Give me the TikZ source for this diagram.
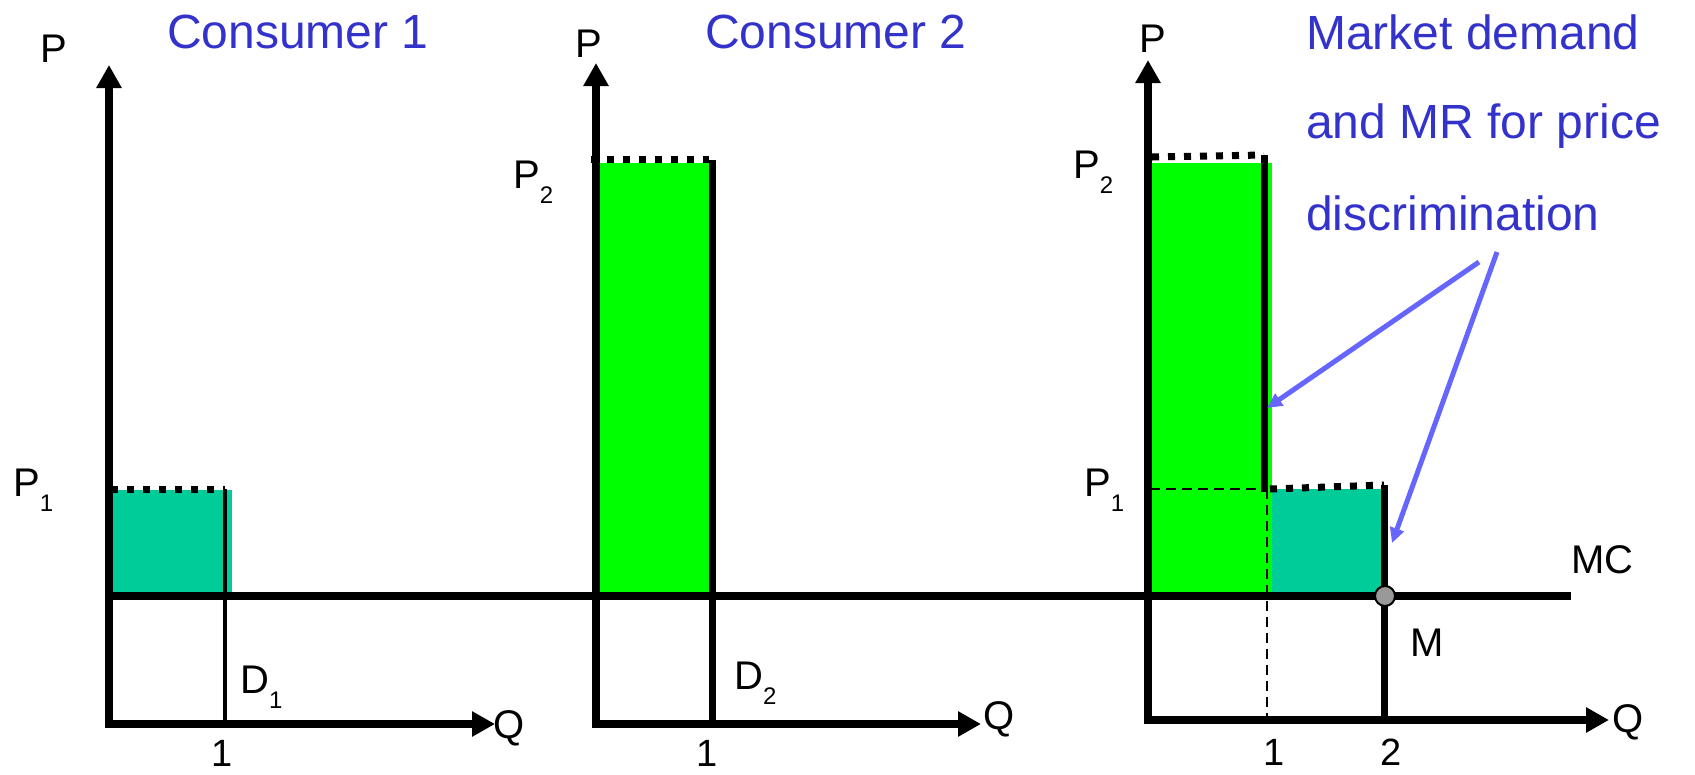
\documentclass[tikz,border=0pt]{standalone}
\usepackage{fontspec}
\setmainfont{Liberation Sans}
\usetikzlibrary{arrows.meta}
\definecolor{titleblue}{RGB}{51,51,204}
\definecolor{arrowblue}{RGB}{102,102,255}
\definecolor{brightgreen}{RGB}{0,255,0}
\definecolor{tealfill}{RGB}{0,204,153}
\definecolor{markgray}{RGB}{153,153,153}
\newcommand\mysub[1]{\raisebox{-15pt}{\fontsize{24}{24}\selectfont #1}}
\begin{document}
\begin{tikzpicture}[x=1pt,y=-1pt,
  axis/.style={line width=7.5pt,line join=miter,
    {Triangle[length=23pt,width=24pt]}-{Triangle[length=23pt,width=24pt]}},
  thickline/.style={line width=7pt},
  thinline/.style={line width=4pt},
  dotline/.style={line width=7pt,dash pattern=on 7pt off 9pt},
  guide/.style={line width=2pt,dash pattern=on 10pt off 6pt},
  pointer/.style={line width=5pt,color=arrowblue,-{Triangle[length=15pt,width=14pt]}},
  lbl/.style={font=\fontsize{40}{40}\selectfont,inner sep=0pt},
  num/.style={font=\fontsize{38}{38}\selectfont,inner sep=0pt,anchor=base},
  ttl/.style={font=\fontsize{48}{48}\selectfont,text=titleblue,inner sep=0pt,anchor=base west}
]
\useasboundingbox (0,0) rectangle (1695,774);

% ---------- fills ----------
\fill[tealfill] (109,490) rectangle (232,596);
\fill[brightgreen] (596,163) rectangle (709,596);
\fill[brightgreen] (1148,163) rectangle (1272,596);
\fill[tealfill] (1272,489) rectangle (1383,596);

% ---------- coordinates ----------
\coordinate (o1) at (109,724);
\coordinate (t1) at (109,65);
\coordinate (r1) at (495,724);
\coordinate (o2) at (596,724);
\coordinate (t2) at (596,63);
\coordinate (r2) at (981,724);
\coordinate (o3) at (1148,720);
\coordinate (t3) at (1148,60);
\coordinate (r3) at (1609,720);
\coordinate (mcL) at (109,596);
\coordinate (mcR) at (1571,596);

% ---------- MC line ----------
\draw[line width=8pt] (mcL) -- (mcR);

% ---------- panel 1 ----------
\coordinate (d1t) at (225,489);
\coordinate (d1b) at (225,724);
\coordinate (p1a) at (111,489);
\draw[dotline] (p1a) -- (d1t);
\draw[thinline] (d1t) -- (d1b);
\draw[axis] (t1) -- (o1) -- (r1);

% ---------- panel 2 ----------
\coordinate (d2t) at (712,160);
\coordinate (d2b) at (712,724);
\coordinate (p2a) at (591,159);
\coordinate (p2b) at (709,159);
\draw[dotline] (p2a) -- (p2b);
\draw[thickline] (d2t) -- (d2b);
\draw[axis] (t2) -- (o2) -- (r2);

% ---------- panel 3 ----------
\coordinate (k1t) at (1264,155);
\coordinate (k1b) at (1264,492);
\coordinate (k2t) at (1384,485);
\coordinate (k2b) at (1384,720);
\coordinate (p3a) at (1152,157);
\coordinate (p3b) at (1270,489);
\coordinate (gh) at (1150,489);
\coordinate (gv) at (1267,489);
\coordinate (gvb) at (1267,726);
\draw[guide] (gh) -- (k1b |- gh);
\draw[guide] (gv) -- (gvb);
\draw[dotline] (p3a) -- (k1t);
\draw[dotline] (p3b) -- (k2t);
\draw[thickline] (k1t) -- (k1b);
\draw[thickline] (k2t) -- (k2b);
\draw[axis] (t3) -- (o3) -- (r3);
\node[circle,draw=black,line width=2pt,fill=markgray,minimum size=20pt,inner sep=0pt] (m) at (1385,596) {};

% ---------- labels ----------
\node[lbl,anchor=base west] (P1ax) at (40,62) {P};
\node[lbl,anchor=base west] (P2ax) at (575,57) {P};
\node[lbl,anchor=base west] (P3ax) at (1139,52) {P};
\node[lbl,anchor=base west] (lp1a) at (13,496) {P\mysub{1}};
\node[lbl,anchor=base west] (lp2b) at (513,188) {P\mysub{2}};
\node[lbl,anchor=base west] (lp2c) at (1073,178) {P\mysub{2}};
\node[lbl,anchor=base west] (lp1c) at (1084,496) {P\mysub{1}};
\node[lbl,anchor=base west] (ld1) at (240,693) {D\mysub{1}};
\node[lbl,anchor=base west] (ld2) at (734,689) {D\mysub{2}};
\node[lbl,anchor=base west] (q1) at (493,738) {Q};
\node[lbl,anchor=base west] (q2) at (983,729) {Q};
\node[lbl,anchor=base west] (q3) at (1612,732) {Q};
\node[num] (n1a) at (222,766) {1};
\node[num] (n1b) at (707,766) {1};
\node[num] (n1c) at (1274,765) {1};
\node[num] (n2c) at (1391,765) {2};
\node[lbl,anchor=base west] (mc) at (1571,573) {MC};
\node[lbl,anchor=base west] (mlab) at (1410,656) {M};

\node[ttl] (c1) at (167,48) {Consumer 1};
\node[ttl] (c2) at (705,48) {Consumer 2};
\node[ttl] (mk1) at (1306,49) {Market demand};
\node[ttl] (mk2) at (1306,138) {and MR for price};
\node[ttl] (mk3) at (1306,230) {discrimination};

% ---------- pointers ----------
\coordinate (a1s) at (1479,262);
\coordinate (a1e) at (1267,408);
\coordinate (a2s) at (1497,252);
\coordinate (a2e) at (1392,543);
\draw[pointer] (a1s) -- (a1e);
\draw[pointer] (a2s) -- (a2e);
\end{tikzpicture}
\end{document}
